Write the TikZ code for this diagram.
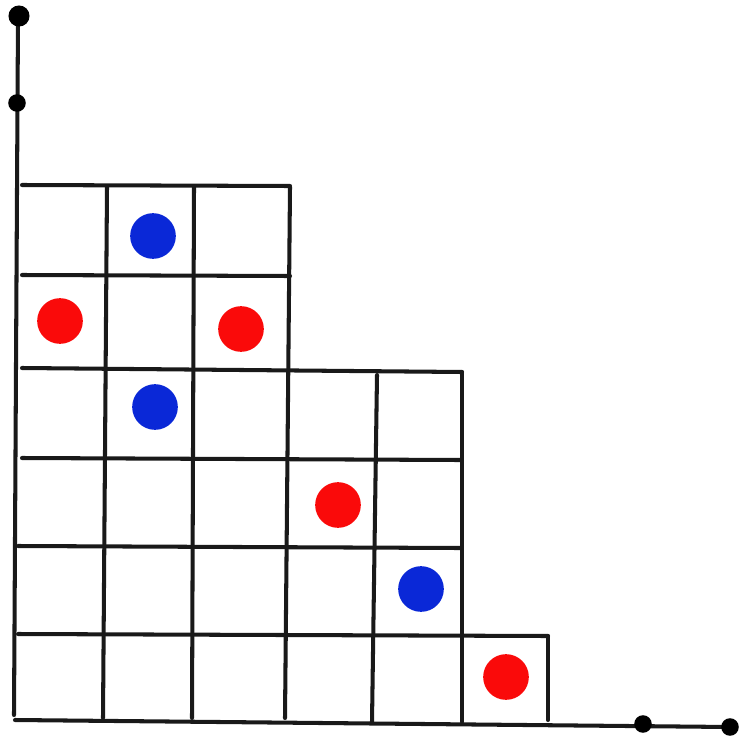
\documentclass[tikz,border=0pt]{standalone}
\usetikzlibrary{positioning}

\definecolor{inkred}{RGB}{250,10,10}
\definecolor{inkblue}{RGB}{10,40,215}

\tikzset{
  gridline/.style={line width=2.3pt, line cap=round, black!90},
  axisdot/.style={circle, fill=black, inner sep=0pt, minimum size=10pt},
  reddot/.style={circle, fill=inkred, inner sep=0pt, minimum size=26pt},
  bluedot/.style={circle, fill=inkblue, inner sep=0pt, minimum size=26pt}
}

\begin{document}
\begin{tikzpicture}[x=0.02cm, y=-0.02cm]
  \useasboundingbox (0,0) rectangle (740,740);

  % axes
  \draw[gridline] (18,17) -- (14,715);
  \draw[gridline] (15,720) -- (730,727);
  \node[axisdot, minimum width=12pt] (ytop) at (19,16) {};
  \node[axisdot] (ymid) at (17,103) {};
  \node[axisdot] (xmid) at (643,724) {};
  \node[axisdot] (xend) at (730,727) {};

  % rows
  \draw[gridline] (22,185) -- (290,186);
  \draw[gridline] (22,275) -- (290,276);
  \draw[gridline] (22,368) -- (462,372);
  \draw[gridline] (22,458) -- (460,460);
  \draw[gridline] (18,546) -- (460,548);
  \draw[gridline] (18,634) -- (548,636);

  % columns
  \draw[gridline] (107,187) -- (103,718);
  \draw[gridline] (194,187) -- (192,718);
  \draw[gridline] (290,187) -- (285,718);
  \draw[gridline] (377,375) -- (372,722);
  \draw[gridline] (462,372) -- (462,722);
  \draw[gridline] (548,636) -- (548,720);

  % dots in the cells
  \node[bluedot] (b1) at (153,236) {};
  \node[reddot] (r1) at (60,321) {};
  \node[reddot] (r2) at (241,329) {};
  \node[bluedot] (b2) at (155,407) {};
  \node[reddot] (r3) at (338,505) {};
  \node[bluedot] (b3) at (421,589) {};
  \node[reddot] (r4) at (506,677) {};
\end{tikzpicture}
\end{document}
